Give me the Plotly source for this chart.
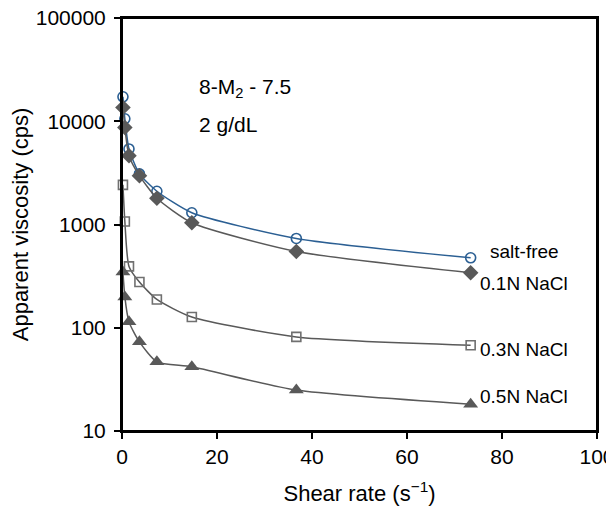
import plotly.graph_objects as go

shear_rate = [0.2, 0.6, 1.47, 3.67, 7.34, 14.7, 36.7, 73.4]
salt_free = [17250, 10570, 5390, 3090, 2100, 1300, 733, 476]
nacl_01 = [13600, 8710, 4640, 2970, 1795, 1040, 548, 341]
nacl_03 = [2420, 1070, 393, 277, 188, 127, 81.5, 67.8]
nacl_05 = [347, 199, 114, 73, 46.8, 41.8, 24.9, 18.2]
labels = ["salt-free", "0.1N NaCl", "0.3N NaCl", "0.5N NaCl"]
y_ticks = [10, 100, 1000, 10000, 100000]
x_ticks = [0, 20, 40, 60, 80, 100]

FONT = "Liberation Sans, Arial, Helvetica, sans-serif"
BLUE = "#2b5f93"
GRAY = "#595959"

# page body has an 8px default margin; compensate so the figure fills the window
PAGE_W, PAGE_H, OFF = 614, 506, 8
L, R, T, B = 121.5, 597, 18, 431  # plot area in window pixels
W, H = R - L, B - T


def px2paper(px, py):
    return (px - L) / W, (B - py) / H


fig = go.Figure()
series = [
    (salt_free, BLUE, dict(symbol="circle-open", size=10, color=BLUE, line=dict(width=1.6, color=BLUE))),
    (nacl_01, GRAY, dict(symbol="diamond", size=12, color=GRAY, line=dict(width=0))),
    (nacl_03, GRAY, dict(symbol="square-open", size=9, color="#707070", line=dict(width=1.6, color="#707070"))),
    (nacl_05, GRAY, dict(symbol="triangle-up", size=13, color=GRAY, line=dict(width=0))),
]
for (vals, col, mk), name in zip(series, labels):
    fig.add_trace(go.Scatter(
        x=shear_rate, y=vals, mode="lines+markers", name=name,
        line=dict(color=col, width=1.5, shape="spline", smoothing=0.6),
        marker=mk, showlegend=False, cliponaxis=False,
    ))

label_pos = [(488, 251), (478, 283), (478, 349), (478, 396)]
for name, (px, py) in zip(labels, label_pos):
    xp, yp = px2paper(px, py)
    fig.add_annotation(xref="paper", yref="paper", x=xp, y=yp, text=name,
                       showarrow=False, xanchor="left", yanchor="middle",
                       font=dict(family=FONT, size=19, color="black"))

for txt, py in [("8-M<sub>2</sub> - 7.5", 88), ("2 g/dL", 124)]:
    xp, yp = px2paper(197, py)
    fig.add_annotation(xref="paper", yref="paper", x=xp, y=yp, text=txt,
                       showarrow=False, xanchor="left", yanchor="middle",
                       font=dict(family=FONT, size=21, color="black"))

# plot frame
fig.add_shape(type="rect", xref="paper", yref="paper", x0=0, y0=0, x1=1, y1=1,
              line=dict(color="black", width=2), layer="above")

fig.update_layout(
    width=PAGE_W - OFF, height=PAGE_H - OFF,
    margin=dict(l=L - OFF, r=PAGE_W - R, t=T - OFF, b=PAGE_H - B),
    plot_bgcolor="white", paper_bgcolor="white",
    font=dict(family=FONT, size=21, color="black"),
    xaxis=dict(range=[0, 100], tickvals=x_ticks, ticktext=[str(v) for v in x_ticks],
               showgrid=False, zeroline=False, showline=True, linecolor="black", linewidth=2,
               mirror=True, ticks="outside", ticklen=6, tickwidth=1.5, tickcolor="black",
               automargin=False, ticklabeloverflow="allow",
               title=dict(text="Shear rate (s<sup>\u22121</sup>)", font=dict(size=22), standoff=19)),
    yaxis=dict(type="log", range=[1, 5], tickvals=y_ticks, ticktext=[str(v) for v in y_ticks],
               showgrid=False, zeroline=False, showline=True, linecolor="black", linewidth=2,
               mirror=True, ticks="outside", ticklen=6, tickwidth=1.5, tickcolor="black",
               automargin=False, ticklabelstandoff=4, ticklabeloverflow="allow",
               title=dict(text="Apparent viscosity (cps)", font=dict(size=22), standoff=10)),
)

fig.write_html("out.html")
